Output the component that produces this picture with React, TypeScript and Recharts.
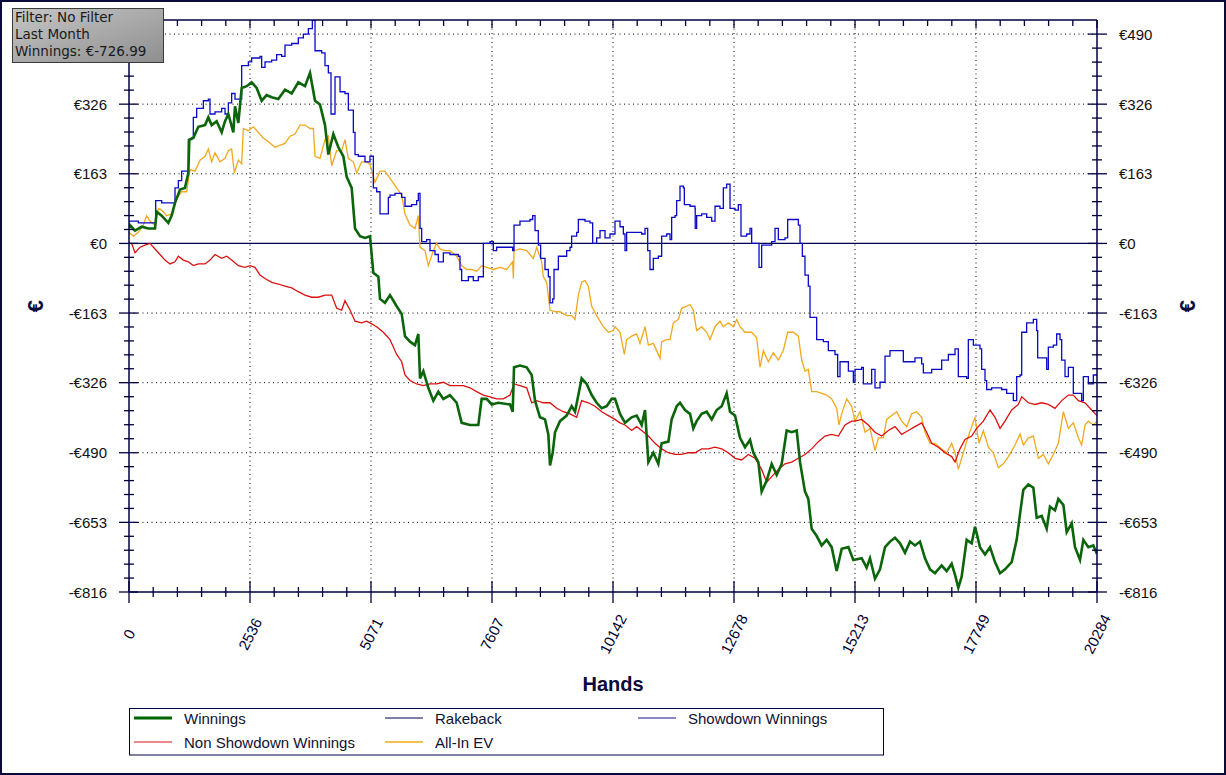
import React from 'react';
import { LineChart, Line, XAxis, YAxis, ReferenceLine } from 'recharts';

// ---------------- data (hands, euros) ----------------
const winningsHands = [0,21,126,265,405,545,580,685,824,894,964,1069,1173,1243,1264,1348,1453,1593,1662,1732,1837,1942,2012,2082,2186,2221,2291,2361,2466,2570,2675,2780,2885,2990,3129,3269,3409,3548,3688,3793,3898,4002,4107,4177,4282,4387,4491,4561,4666,4736,4841,4945,5050,
5120,5225,5260,5364,5469,5609,5714,5783,5888,5993,6063,6098,6168,6272,6377,6482,6587,6726,6866,6971,7146,7320,7390,7495,7600,7739,7984,8040,8068,8193,8333,8438,8508,8612,8717,8787,8822,8878,8927,9031,9171,9276,9346,9416,9485,9590,9695,9800,9905,10009,10114,
10184,10289,10394,10533,10638,10743,10813,10883,10987,11092,11162,11302,11371,11476,11546,11651,11756,11825,11895,12000,12105,12210,12314,12419,12524,12594,12699,12803,12908,13013,13083,13188,13257,13362,13467,13572,13677,13781,13886,13991,14061,14165,14235,14305,14410,14515,14619,14724,14829,14934,15074,15178,
15353,15457,15527,15632,15737,15842,15946,16051,16156,16261,16366,16470,16575,16680,16785,16889,17029,17134,17239,17309,17378,17448,17553,17658,17728,17832,17937,18042,18147,18252,18356,18496,18601,18671,18740,18845,18950,19020,19125,19230,19299,19404,19474,19579,19649,19754,19823,19928,19998,20103,20207,20284];
const winningsValues = [35,43,30,39,35,35,74,65,48,65,95,126,130,165,243,247,273,277,295,277,286,260,286,303,260,321,282,364,368,377,364,334,347,342,338,360,351,377,368,399,334,325,277,208,256,225,204,156,130,35,17,13,17,
-69,-78,-130,-139,-121,-147,-165,-217,-230,-238,-212,-316,-299,-338,-368,-347,-364,-355,-373,-420,-425,-425,-364,-364,-377,-373,-377,-394,-290,-286,-290,-308,-368,-407,-412,-447,-520,-490,-442,-416,-403,-381,-394,-355,-316,-329,-355,-373,-386,-381,-364,
-364,-399,-420,-407,-403,-425,-390,-512,-490,-516,-468,-464,-412,-381,-373,-390,-399,-433,-416,-399,-394,-412,-390,-381,-351,-394,-403,-455,-477,-460,-490,-512,-581,-555,-516,-542,-516,-438,-442,-438,-512,-581,-598,-668,-685,-707,-694,-711,-767,-715,-711,-741,
-737,-759,-737,-785,-763,-711,-698,-689,-702,-724,-698,-707,-698,-737,-763,-772,-754,-767,-750,-776,-806,-780,-694,-702,-663,-711,-728,-711,-746,-772,-763,-746,-694,-633,-577,-564,-572,-642,-638,-668,-616,-625,-598,-612,-676,-655,-711,-741,-694,-711,-707,-727];

const showdownHands = [0,56,196,335,510,559,685,894,964,1034,1104,1208,1243,1313,1348,1418,1558,1662,1697,1802,1942,2012,2082,2151,2221,2291,2361,2501,2570,2675,2745,2780,2850,2990,3094,3199,3269,3409,3548,3653,3758,3842,3898,4037,4107,4177,4233,4317,4422,4526,4596,4701,4736,4806,4945,5050,
5120,5190,5260,5364,5434,5469,5574,5714,5783,5923,6028,6063,6098,6133,6237,6307,6412,6482,6587,6726,6901,6936,6971,7111,7215,7320,7425,7565,7634,7704,7914,8040,8068,8193,8333,8403,8459,8508,8577,8626,8717,8787,8822,8878,8906,8997,9101,9171,9241,9276,9381,9416,9555,9660,9716,9800,9870,9975,10079,
10184,10289,10359,10394,10428,10603,10743,10813,10869,10917,10987,11092,11162,11267,11337,11371,11441,11476,11546,11616,11637,11756,11860,11865,11895,12000,12105,12210,12280,12384,12454,12524,12594,12699,12768,12824,12943,13013,13048,13118,13202,13257,13397,13467,13537,13607,13746,13802,13921,14026,14061,14110,14165,14235,14270,14375,14410,14550,14654,14794,14850,14899,15039,15074,15178,
15213,15353,15388,15527,15562,15632,15737,15842,15946,16121,16226,16400,16470,16610,16645,16820,17029,17169,17309,17378,17553,17588,17693,17832,17867,17937,17972,18077,18286,18391,18531,18601,18671,18706,18810,18950,19020,19041,19160,19230,19264,19369,19439,19509,19544,19614,19684,19788,19893,19963,19998,20103,20207,20284];
const showdownValues = [52,52,48,48,48,100,95,95,130,147,169,169,243,247,295,316,334,338,303,308,316,303,329,351,338,338,416,425,434,434,438,412,425,429,442,438,464,468,481,490,503,522,451,446,416,399,303,390,355,351,312,260,208,204,191,204,
130,121,69,69,108,113,117,108,87,91,100,117,35,4,9,-17,-26,-43,-22,-26,-30,-61,-87,-78,-87,-78,0,4,-17,-9,-9,-17,43,52,52,56,65,30,-4,-35,-61,-78,-139,-130,-61,-30,-30,-17,-9,17,26,56,52,48,0,13,30,13,22,
52,39,22,-17,26,26,22,35,-17,-61,-35,-30,17,22,9,61,65,100,134,130,91,87,82,35,65,69,61,52,87,82,130,139,82,78,91,17,22,35,0,0,-56,-4,-4,4,35,9,13,56,56,43,0,-30,-74,-100,-173,-173,-225,-230,-251,-260,-312,-277,-277,-299,-325,
-295,-290,-329,-329,-295,-338,-325,-264,-251,-251,-277,-277,-268,-282,-303,-295,-273,-260,-247,-312,-316,-225,-238,-247,-295,-321,-342,-338,-342,-351,-368,-312,-308,-208,-186,-178,-204,-268,-268,-295,-243,-238,-212,-225,-273,-312,-290,-351,-351,-368,-312,-329,-308,-308];

const nonShowdownHands = [0,56,126,231,335,440,545,650,754,859,964,1034,1139,1243,1348,1453,1593,1697,1802,1942,2047,2151,2291,2431,2536,2640,2745,2850,2990,3129,3269,3409,3548,3688,3828,3968,4107,4247,4352,4456,4526,4631,4736,4875,4980,
5050,5190,5329,5469,5609,5714,5783,5888,6028,6168,6307,6447,6587,6726,6866,7006,7146,7285,7425,7565,7704,7844,7984,8068,8193,8333,8438,8543,8682,8822,8962,9101,9241,9381,9485,9625,9765,9905,10044,
10184,10289,10394,10533,10638,10743,10883,11022,11162,11302,11441,11581,11721,11860,12000,12140,12280,12419,12559,12699,12838,12978,13118,13257,13362,13467,13607,13746,13886,14026,14165,14305,14445,14585,14724,14864,15004,15143,
15213,15353,15492,15632,15772,15912,16051,16191,16331,16470,16610,16715,16820,16959,17099,17239,17309,17413,17518,17658,17763,17902,18042,18147,18252,18356,18496,18636,18706,18845,18985,19125,19264,19404,19544,19684,19788,19893,20033,20172,20284];
const nonShowdownValues = [0,0,-22,-9,-4,0,-13,-26,-39,-48,-43,-30,-39,-43,-52,-48,-48,-39,-26,-35,-30,-39,-52,-56,-52,-56,-74,-82,-91,-95,-100,-104,-113,-121,-126,-126,-121,-121,-152,-156,-134,-156,-182,-186,-182,
-186,-195,-208,-225,-260,-277,-308,-321,-329,-333,-329,-329,-325,-333,-333,-333,-338,-347,-355,-359,-364,-364,-355,-329,-333,-338,-373,-368,-373,-373,-386,-394,-399,-407,-368,-373,-381,-394,-403,
-412,-420,-425,-438,-429,-438,-451,-468,-481,-490,-494,-494,-490,-490,-481,-481,-477,-481,-490,-503,-507,-494,-503,-529,-559,-546,-529,-516,-512,-503,-494,-481,-464,-451,-447,-451,-425,-416,
-416,-412,-425,-442,-451,-438,-429,-447,-438,-429,-420,-442,-468,-477,-490,-499,-512,-481,-459,-451,-433,-416,-390,-407,-433,-416,-390,-377,-359,-373,-377,-373,-377,-386,-368,-355,-355,-368,-373,-390,-403];

const allInEvHands = [0,91,196,300,370,440,545,615,685,789,894,999,1104,1208,1278,1383,1488,1593,1662,1732,1802,1907,2012,2082,2151,2207,2291,2361,2396,2501,2605,2710,2815,2920,3059,3164,3269,3374,3479,3583,3688,3793,3863,3898,4002,4107,4177,4247,4352,4456,4526,4596,4701,4771,4875,4980,5050,
5155,5260,5364,5469,5609,5714,5783,5888,5993,6063,6098,6203,6272,6377,6447,6517,6622,6726,6866,6971,7076,7180,7285,7390,7495,7634,7774,7914,8040,8054,8068,8193,8333,8473,8543,8647,8682,8752,8822,8927,9031,9171,9276,9346,9416,9485,9555,9625,9695,9800,9940,10044,10149,
10184,10289,10380,10428,10533,10638,10708,10813,10883,10987,11057,11127,11162,11267,11337,11406,11511,11581,11686,11756,11825,11895,12000,12105,12175,12280,12384,12454,12559,12664,12734,12803,12908,13048,13153,13222,13292,13397,13502,13607,13711,13802,13921,14026,14096,14165,14235,14305,14410,14515,14619,14724,14829,14878,14934,15039,15143,
15213,15318,15423,15527,15632,15702,15807,15877,15981,16086,16191,16296,16400,16505,16610,16680,16785,16889,17029,17134,17239,17309,17378,17448,17588,17728,17812,17902,18007,18112,18217,18321,18426,18566,18671,18740,18845,18950,19055,19160,19264,19369,19474,19579,19684,19788,19893,19963,20033,20103,20207,20284];
const allInEvValues = [26,17,26,43,65,52,43,82,78,65,69,104,121,121,173,169,195,204,221,191,212,191,199,217,221,165,195,186,269,264,273,260,247,238,225,230,234,251,256,277,277,269,269,204,199,243,251,182,217,217,243,199,191,165,191,191,185,
143,169,169,152,130,113,69,43,35,65,-9,-17,-52,-17,0,-13,-17,-17,-30,-52,-61,-61,-65,-52,-56,-61,-56,-61,-43,-82,-17,-13,-17,-35,-9,-43,-78,-91,-156,-160,-160,-169,-169,-178,-121,-91,-87,-100,-147,-169,-195,-208,-204,
-195,-208,-260,-225,-217,-212,-234,-195,-238,-234,-251,-269,-230,-225,-225,-186,-178,-152,-147,-143,-156,-204,-195,-208,-225,-195,-182,-195,-186,-195,-178,-195,-208,-208,-221,-290,-251,-277,-256,-273,-251,-208,-208,-217,-273,-299,-295,-347,-347,-351,-355,-364,-386,-425,-399,-364,-381,
-416,-394,-442,-433,-485,-455,-455,-412,-403,-394,-416,-429,-399,-394,-407,-442,-468,-468,-481,-490,-468,-490,-529,-503,-451,-407,-468,-438,-477,-490,-525,-516,-499,-472,-446,-472,-455,-451,-503,-494,-516,-494,-468,-394,-433,-420,-455,-472,-425,-416,-425,-416];

const rakebackHands = [0, 20284];
const rakebackValues = [0, 0];

// axis ticks and labels
const xMajorTicks = [0, 2535.5, 5071, 7606.5, 10142, 12677.5, 15213, 17748.5, 20284];
const xTickLabels = ['0', '2536', '5071', '7607', '10142', '12678', '15213', '17749', '20284'];
const yMajorTicks = [-816, -653, -490, -326, -163, 0, 163, 326, 490];
const yTickLabels = ['-€816', '-€653', '-€490', '-€326', '-€163', '€0', '€163', '€326', '€490'];

const legendItems = [
  { name: 'Winnings', color: '#006400', width: 3 },
  { name: 'Rakeback', color: '#000050', width: 1.2 },
  { name: 'Showdown Winnings', color: '#10108a', width: 1.2 },
  { name: 'Non Showdown Winnings', color: '#dd1010', width: 1.2 },
  { name: 'All-In EV', color: '#f0a818', width: 1.5 },
];

// -------------- helpers ---------------
const zip = (h: number[], v: number[]) => h.map((x, i) => ({ h: x, v: v[i] }));
const withMinor = (majors: number[]) => {
  const out: number[] = [];
  for (let i = 0; i < majors.length; i++) {
    out.push(majors[i]);
    if (i < majors.length - 1) {
      const step = (majors[i + 1] - majors[i]) / 5;
      for (let k = 1; k < 5; k++) out.push(majors[i] + step * k);
    }
  }
  return out;
};
const majorIndex = (majors: number[], v: number) => majors.findIndex((m) => Math.abs(m - v) < 1e-6);

const AXIS = '#000040';
const FONT = '"Liberation Sans", Arial, sans-serif';
const xTicks = withMinor(xMajorTicks);
const yTicks = withMinor(yMajorTicks);

const winningsData = zip(winningsHands, winningsValues);
const showdownData = zip(showdownHands, showdownValues);
const nonShowdownData = zip(nonShowdownHands, nonShowdownValues);
const allInEvData = zip(allInEvHands, allInEvValues);
const rakebackData = zip(rakebackHands, rakebackValues);

const BottomTick = (p: any) => {
  const { x, y, payload } = p;
  const i = majorIndex(xMajorTicks, payload.value);
  if (i < 0) return <line x1={x} x2={x} y1={y - 5} y2={y + 5} stroke={AXIS} strokeWidth={1.3} />;
  return (
    <g>
      <line x1={x} x2={x} y1={y - 11} y2={y + 11} stroke={AXIS} strokeWidth={1.3} />
      <text
        transform={`translate(${x},${y + 42}) rotate(-63)`}
        textAnchor="middle"
        dominantBaseline="central"
        fontFamily={FONT}
        fontSize={15}
        fill="#000033"
      >
        {xTickLabels[i]}
      </text>
    </g>
  );
};

const TopTick = (p: any) => {
  const { x, y, payload } = p;
  const i = majorIndex(xMajorTicks, payload.value);
  return <line x1={x} x2={x} y1={y} y2={y + (i < 0 ? 6 : 8)} stroke={AXIS} strokeWidth={1.3} />;
};

// the top-left label sits under the info box in the reference, so it is not drawn on the left
const LeftTick = (p: any) => {
  const { x, y, payload } = p;
  const i = majorIndex(yMajorTicks, payload.value);
  if (i < 0) return <line x1={x - 5} x2={x + 5} y1={y} y2={y} stroke={AXIS} strokeWidth={1.3} />;
  const hidden = i === yMajorTicks.length - 1;
  return (
    <g>
      <line x1={x - 10} x2={x + 9} y1={y} y2={y} stroke={AXIS} strokeWidth={1.3} />
      {!hidden && (
        <text x={x - 22} y={y} textAnchor="end" dominantBaseline="central" fontFamily={FONT} fontSize={15} fill="#111">
          {yTickLabels[i]}
        </text>
      )}
    </g>
  );
};

const RightTick = (p: any) => {
  const { x, y, payload } = p;
  const i = majorIndex(yMajorTicks, payload.value);
  if (i < 0) return <line x1={x - 5} x2={x + 5} y1={y} y2={y} stroke={AXIS} strokeWidth={1.3} />;
  return (
    <g>
      <line x1={x - 9} x2={x + 10} y1={y} y2={y} stroke={AXIS} strokeWidth={1.3} />
      <text x={x + 22} y={y} textAnchor="start" dominantBaseline="central" fontFamily={FONT} fontSize={15} fill="#111">
        {yTickLabels[i]}
      </text>
    </g>
  );
};

const gridY = yMajorTicks.filter((v) => v !== 0 && v !== yMajorTicks[0]);
const gridX = xMajorTicks.slice(1, -1);

export default function App() {
  const legendRows = [
    [legendItems[0], legendItems[1], legendItems[2]],
    [legendItems[3], legendItems[4]],
  ];
  const colX = [134, 385, 638];
  const rowY = [718, 742];
  return (
    <div style={{ position: 'fixed', left: 0, top: 0, width: 1226, height: 775, background: '#fff', overflow: 'hidden' }}>
      <LineChart width={1226} height={775} margin={{ top: 10, right: 69, bottom: 123, left: 69 }}>
        <XAxis
          xAxisId="b"
          dataKey="h"
          type="number"
          domain={[0, 20284]}
          ticks={xTicks}
          interval={0}
          tick={BottomTick}
          tickLine={false}
          tickSize={0}
          tickMargin={0}
          height={60}
          allowDataOverflow
          axisLine={{ stroke: AXIS, strokeWidth: 1.5 }}
        />
        <XAxis
          xAxisId="t"
          dataKey="h"
          orientation="top"
          type="number"
          domain={[0, 20284]}
          ticks={xTicks}
          interval={0}
          tick={TopTick}
          tickLine={false}
          tickSize={0}
          tickMargin={0}
          height={10}
          allowDataOverflow
          axisLine={{ stroke: AXIS, strokeWidth: 1.5 }}
        />
        <YAxis
          yAxisId="l"
          type="number"
          domain={[-816, 523]}
          ticks={yTicks}
          interval={0}
          tick={LeftTick}
          tickLine={false}
          tickSize={0}
          tickMargin={0}
          width={60}
          allowDataOverflow
          axisLine={{ stroke: AXIS, strokeWidth: 1.5 }}
        />
        <YAxis
          yAxisId="r"
          orientation="right"
          type="number"
          domain={[-816, 523]}
          ticks={yTicks}
          interval={0}
          tick={RightTick}
          tickLine={false}
          tickSize={0}
          tickMargin={0}
          width={60}
          allowDataOverflow
          axisLine={{ stroke: AXIS, strokeWidth: 1.5 }}
        />
        {gridY.map((v) => (
          <ReferenceLine key={'gy' + v} xAxisId="b" yAxisId="l" y={v} stroke="#000" strokeWidth={1} strokeDasharray="1 3.5" />
        ))}
        {gridX.map((v) => (
          <ReferenceLine key={'gx' + v} xAxisId="b" yAxisId="l" x={v} stroke="#000" strokeWidth={1} strokeDasharray="1 3.5" />
        ))}
        <Line xAxisId="b" yAxisId="l" data={rakebackData} dataKey="v" name="Rakeback" type="linear" stroke="#000050" strokeWidth={1.3} dot={false} activeDot={false} isAnimationActive={false} />
        <Line xAxisId="b" yAxisId="l" data={allInEvData} dataKey="v" name="All-In EV" type="linear" stroke="#f2a81c" strokeWidth={1.3} dot={false} activeDot={false} isAnimationActive={false} />
        <Line xAxisId="b" yAxisId="l" data={nonShowdownData} dataKey="v" name="Non Showdown Winnings" type="linear" stroke="#dd1010" strokeWidth={1.3} dot={false} activeDot={false} isAnimationActive={false} />
        <Line xAxisId="b" yAxisId="l" data={showdownData} dataKey="v" name="Showdown Winnings" type="stepAfter" stroke="#0a0ac8" strokeWidth={1.3} dot={false} activeDot={false} isAnimationActive={false} />
        <Line xAxisId="b" yAxisId="l" data={winningsData} dataKey="v" name="Winnings" type="linear" stroke="#0b650b" strokeWidth={2.6} dot={false} activeDot={false} isAnimationActive={false} />
      </LineChart>

      <svg width={1226} height={775} style={{ position: 'absolute', left: 0, top: 0, pointerEvents: 'none' }}>
        <defs>
          <linearGradient id="infoGrad" x1="0" y1="0" x2="1" y2="1">
            <stop offset="0%" stopColor="#c6c6c6" />
            <stop offset="100%" stopColor="#8e8e8e" />
          </linearGradient>
        </defs>
        {/* info box */}
        <rect x={12.5} y={8.5} width={151} height={54} fill="url(#infoGrad)" stroke="#3a3a3a" strokeWidth={1} />
        <g fontFamily='"DejaVu Sans", Verdana, sans-serif' fontSize={13.5} fill="#1a1a1a">
          <text x={15} y={22}>Filter: No Filter</text>
          <text x={15} y={39}>Last Month</text>
          <text x={15} y={56}>Winnings: €-726.99</text>
        </g>
        {/* axis titles */}
        <text x={613} y={684} textAnchor="middle" dominantBaseline="central" fontFamily={FONT} fontWeight="bold" fontSize={20} fill="#0a0a3c">
          Hands
        </text>
        <text transform="translate(35,306) rotate(-90)" textAnchor="middle" dominantBaseline="central" fontFamily={FONT} fontWeight="bold" fontSize={22} fill="#0a0a3c">
          €
        </text>
        <text transform="translate(1187,306) rotate(-90)" textAnchor="middle" dominantBaseline="central" fontFamily={FONT} fontWeight="bold" fontSize={22} fill="#0a0a3c">
          €
        </text>
        {/* legend */}
        <rect x={129.5} y={708.5} width={754} height={46.5} fill="none" stroke="#000040" strokeWidth={1} />
        {legendRows.map((row, r) =>
          row.map((it, c) => (
            <g key={it.name}>
              <line x1={colX[c]} x2={colX[c] + 38} y1={rowY[r]} y2={rowY[r]} stroke={it.color} strokeWidth={it.width} />
              <text x={colX[c] + 50} y={rowY[r]} dominantBaseline="central" fontFamily={FONT} fontSize={15} fill="#111133">
                {it.name}
              </text>
            </g>
          ))
        )}
      </svg>
      <div style={{ position: 'absolute', left: 0, top: 0, width: 1226, height: 775, boxSizing: 'border-box', border: '2px solid #0a0a3a', pointerEvents: 'none' }} />
    </div>
  );
}
